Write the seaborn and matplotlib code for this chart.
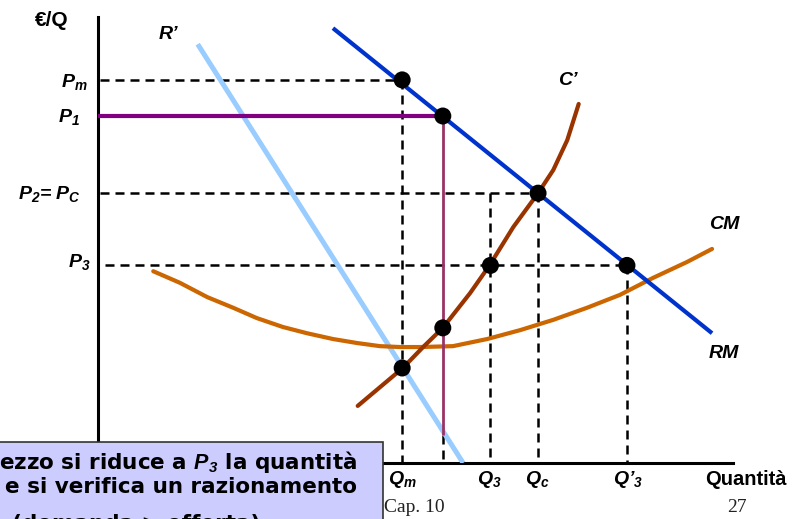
import numpy as np
import matplotlib
matplotlib.use("Agg")
import matplotlib.pyplot as plt
from matplotlib.patches import Rectangle
import seaborn as sns

# --- data (quantity 0-100, price 0-100) ---
q_m, q_1, q_3, q_c, q_3b = 47.9, 54.3, 61.8, 69.3, 83.3
p_m, p_1, p_2, p_3 = 85.9, 77.8, 60.5, 44.3
p_q1_end = 6.3  # bottom of purple vertical

rm_q = [37.0, 96.7]
rm_p = [97.5, 29.1]

r1_q = [15.7, 57.5]
r1_p = [93.9, 0.0]

c1_q = [40.9, 48.0, 51.2, 54.3, 58.6, 61.7, 65.4, 69.3, 71.7, 73.9, 75.7]
c1_p = [12.8, 21.3, 26.0, 30.3, 38.1, 44.4, 52.9, 60.5, 65.7, 72.4, 80.5]

cm_q = [8.7, 12.9, 17.2, 21.3, 25.0, 29.1, 32.9, 37.0, 40.8, 44.4, 47.6,
        50.7, 55.9, 61.3, 66.5, 71.7, 77.0, 82.2, 87.4, 92.8, 96.7]
cm_p = [43.0, 40.4, 37.2, 34.8, 32.5, 30.5, 29.1, 27.8, 26.9, 26.2, 26.0,
        26.0, 26.2, 27.8, 29.8, 32.1, 34.8, 37.7, 41.5, 45.1, 48.0]

dot_q = [q_m, q_1, q_c, q_3, q_3b, q_1, q_m]
dot_p = [p_m, p_1, p_2, p_3, p_3, 30.3, 21.3]

W, H = 792, 519

sns.set_theme(style="white")
plt.rcParams["font.family"] = ["Liberation Sans", "DejaVu Sans"]
plt.rcParams["text.color"] = "black"
plt.rcParams["mathtext.fontset"] = "custom"
plt.rcParams["mathtext.it"] = "Liberation Sans:italic:bold"
plt.rcParams["mathtext.rm"] = "Liberation Sans:italic:bold"
plt.rcParams["mathtext.bf"] = "Liberation Sans:italic:bold"


def fx(x):
    return x / W


def fy(y):
    return 1 - y / H


fig = plt.figure(figsize=(W / 100, H / 100), dpi=100)
fig.patch.set_facecolor("white")
ax = fig.add_axes([fx(98), fy(463), (733 - 98) / W, (463 - 17) / H])
ax.set_xlim(0, 100)
ax.set_ylim(0, 100)
ax.patch.set_alpha(0)
ax.set_xticks([])
ax.set_yticks([])
for s in ["top", "right"]:
    ax.spines[s].set_visible(False)
for s in ["left", "bottom"]:
    ax.spines[s].set_color("black")
    ax.spines[s].set_linewidth(2.2)

# dashed guides
dash = dict(color="black", lw=1.8, dashes=(3.6, 2.4), zorder=2)
ax.plot([0.3, q_m], [p_m, p_m], **dash)
ax.plot([q_m, q_m], [p_m, 0], **dash)
ax.plot([0.3, q_c], [p_2, p_2], **dash)
ax.plot([q_c, q_c], [p_2, 0], **dash)
ax.plot([q_3, q_3], [p_2, 0], **dash)
ax.plot([1.1, q_3b], [p_3, p_3], **dash)
ax.plot([q_3b, q_3b], [p_3, 0], **dash)
ax.plot([q_1, q_1], [p_q1_end, 0], **dash)

# curves
sns.lineplot(x=r1_q, y=r1_p, ax=ax, color="#99ccff", lw=3.6, sort=False,
             solid_capstyle="butt", zorder=3)
sns.lineplot(x=cm_q, y=cm_p, ax=ax, color="#cc6600", lw=3.0, sort=False,
             solid_capstyle="round", solid_joinstyle="round", zorder=3)
sns.lineplot(x=c1_q, y=c1_p, ax=ax, color="#993300", lw=3.0, sort=False,
             solid_capstyle="round", solid_joinstyle="round", zorder=3)
sns.lineplot(x=rm_q, y=rm_p, ax=ax, color="#0033cc", lw=3.0, sort=False,
             solid_capstyle="butt", zorder=3)

# price ceiling P1
ax.plot([0, q_1], [p_1, p_1], color="#800080", lw=3.0, zorder=4,
        solid_capstyle="butt")
ax.plot([q_1, q_1], [p_1, p_q1_end], color="#993366", lw=2.0, zorder=4,
        solid_capstyle="butt")

sns.scatterplot(x=dot_q, y=dot_p, ax=ax, color="black", s=150,
                edgecolor="none", zorder=6, clip_on=False)
ax.set_xlabel("")
ax.set_ylabel("")

# labels
lab = dict(fontsize=14, fontweight="bold", fontstyle="italic", va="baseline")
fig.text(fx(35), fy(26), "€/Q", fontsize=15, fontweight="bold", va="baseline")
fig.text(fx(159), fy(39), "R’", ha="left", **lab)
fig.text(fx(558), fy(85), "C’", ha="left", **lab)
fig.text(fx(709), fy(229), "CM", ha="left", **lab)
fig.text(fx(709), fy(358), "RM", ha="left", **lab)

fig.text(fx(88), fy(87), r"$P_m$", ha="right", **lab)
fig.text(fx(80), fy(122), r"$P_1$", ha="right", **lab)
fig.text(fx(81), fy(199), r"$P_2$= $P_C$", ha="right", **lab)
fig.text(fx(90), fy(267), r"$P_3$", ha="right", **lab)

fig.text(fx(388), fy(484), r"$Q_m$", ha="left", **lab)
fig.text(fx(477), fy(484), r"$Q_3$", ha="left", **lab)
fig.text(fx(525), fy(484), r"$Q_c$", ha="left", **lab)
fig.text(fx(613), fy(484), r"$Q$’$_3$", ha="left", **lab)
fig.text(fx(705), fy(485), "Quantità", fontsize=14.5, fontweight="bold",
         va="baseline")

fig.text(fx(384), fy(512), "Cap. 10", family="Liberation Serif", fontsize=14,
         color="#222222", va="baseline")
fig.text(fx(727), fy(512), "27", family="Liberation Serif", fontsize=14,
         color="#222222", va="baseline")

# note box
box = Rectangle((fx(-10), fy(540)), (383 + 10) / W, (540 - 442) / H,
                transform=fig.transFigure, facecolor="#ccccff",
                edgecolor="#333333", lw=1.2, zorder=8)
fig.patches.append(box)
note = dict(family="DejaVu Sans", fontsize=15.5, fontweight="bold",
            va="baseline", zorder=9)
fig.text(fx(-1), fy(469), r"ezzo si riduce a $P_3$ la quantità", **note)
fig.text(fx(5), fy(493), "e si verifica un razionamento", **note)
fig.text(fx(12), fy(530), "(domanda > offerta)", **note)

fig.savefig("out.png", dpi=100)
